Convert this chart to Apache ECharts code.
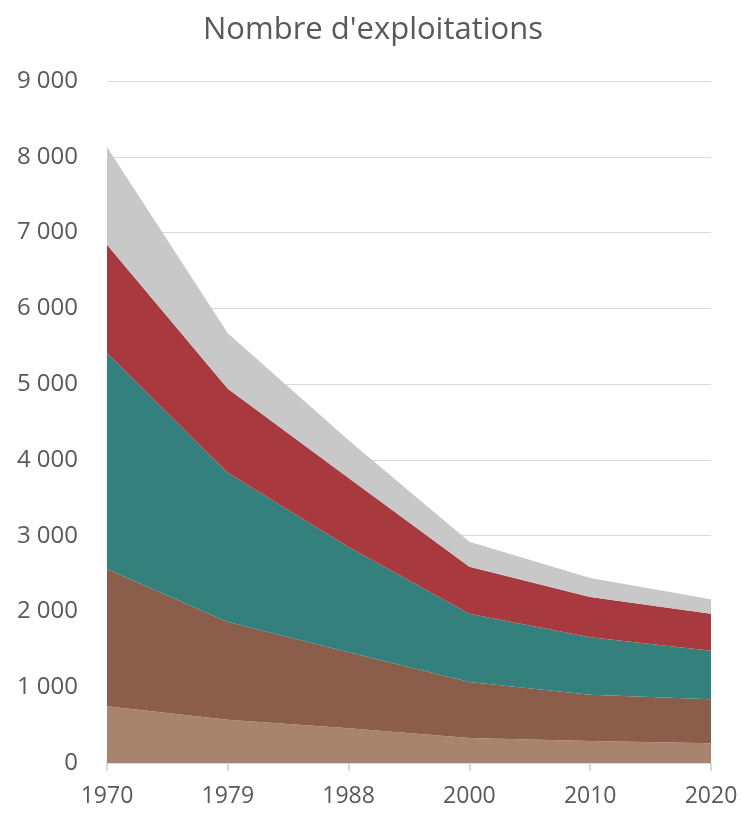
<!DOCTYPE html>
<html><head><meta charset="utf-8">
<script src="https://cdn.jsdelivr.net/npm/echarts@6/dist/echarts.min.js"></script>
<style>html,body{margin:0;padding:0;background:#fff}#c{width:746px;height:814px}</style>
</head><body><div id="c"></div>
<script>
const years = ['1970','1979','1988','2000','2010','2020'];
const s1 = [750, 570, 460, 330, 290, 260];
const s2 = [1810, 1290, 1000, 740, 610, 580];
const s3 = [2850, 1970, 1390, 900, 760, 640];
const s4 = [1430, 1110, 910, 620, 530, 490];
const s5 = [1290, 730, 500, 330, 250, 190];
const colors = ['#A8846E','#8A5E4A','#34807D','#A83A3F','#C8C8C8'];
const font = 'Open Sans';
const chart = echarts.init(document.getElementById('c'), null, {renderer:'canvas'});
const mk = (d,i) => ({type:'line', stack:'t', data:d, symbol:'none', lineStyle:{width:0}, areaStyle:{color:colors[i], opacity:1}, itemStyle:{color:colors[i]}, animation:false});
chart.setOption({
  animation:false,
  title:{text:"Nombre d'exploitations", left:'center', top:10, textStyle:{fontFamily:font, fontSize:31, fontWeight:'normal', color:'#595959'}},
  grid:{left:107, right:35, top:81, bottom:51},
  xAxis:{type:'category', data:years, boundaryGap:false,
    axisLine:{lineStyle:{color:'#D9D9D9', width:2}},
    axisTick:{show:true, length:8, lineStyle:{color:'#D9D9D9', width:2}},
    axisLabel:{fontFamily:font, fontSize:23, color:'#595959', margin:22}},
  yAxis:{type:'value', min:0, max:9000, interval:1000,
    axisLine:{show:false}, axisTick:{show:false},
    splitLine:{lineStyle:{color:'#D9D9D9', width:1}},
    axisLabel:{fontFamily:font, fontSize:24, color:'#595959', margin:29,
      formatter: v => v===0 ? '0' : String(v).replace(/\B(?=(\d{3})+(?!\d))/g,' ')}},
  series:[mk(s1,0),mk(s2,1),mk(s3,2),mk(s4,3),mk(s5,4)]
});
</script></body></html>
